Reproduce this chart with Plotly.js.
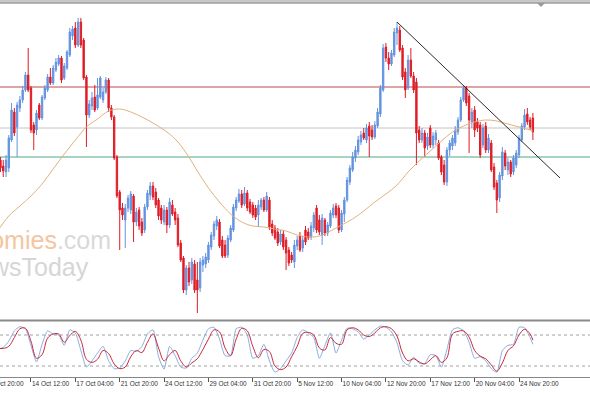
<!DOCTYPE html>
<html><head><meta charset="utf-8">
<script src="https://cdn.plot.ly/plotly-3.0.1.min.js"></script>
<style>html,body{margin:0;padding:0;background:#fff;}#chart{width:590px;height:393px;}</style>
</head><body><div id="chart"></div>
<script>
// ---------- data ----------
const TICK_IDX = [0,16,32,48,64,80,96,112,128,144,160,176,192];
const TICK_TEXT = ["9 Oct 20:00","14 Oct 12:00","17 Oct 04:00","21 Oct 20:00","24 Oct 12:00","29 Oct 04:00","31 Oct 20:00","5 Nov 12:00","10 Nov 04:00","12 Nov 20:00","17 Nov 12:00","20 Nov 04:00","24 Nov 20:00"];
const CANDLE_START = 4;
const OPEN = [
1.2830,1.2840,1.2834,1.2828,1.2832,1.2860,1.2888,1.2873,1.2892,1.2900,
1.2910,1.2925,1.2912,1.2875,1.2870,1.2895,1.2882,1.2902,1.2910,1.2923,
1.2917,1.2930,1.2936,1.2942,1.2922,1.2932,1.2945,1.2964,1.2972,1.2955,
1.2978,1.2960,1.2923,1.2885,1.2894,1.2903,1.2892,1.2903,1.2900,1.2908,
1.2920,1.2892,1.2883,1.2843,1.2808,1.2792,1.2780,1.2792,1.2790,1.2804,
1.2778,1.2790,1.2778,1.2770,1.2793,1.2805,1.2814,1.2808,1.2800,1.2792,
1.2778,1.2790,1.2775,1.2795,1.2788,1.2782,1.2757,1.2742,1.2710,1.2732,
1.2720,1.2736,1.2720,1.2712,1.2735,1.2736,1.2740,1.2753,1.2764,1.2774,
1.2778,1.2760,1.2755,1.2745,1.2760,1.2770,1.2792,1.2799,1.2806,1.2796,
1.2807,1.2798,1.2795,1.2792,1.2785,1.2793,1.2800,1.2790,1.2800,1.2776,
1.2772,1.2768,1.2758,1.2766,1.2760,1.2750,1.2745,1.2738,1.2754,1.2764,
1.2752,1.2770,1.2768,1.2763,1.2772,1.2792,1.2780,1.2765,1.2780,1.2767,
1.2774,1.2785,1.2794,1.2792,1.2770,1.2786,1.2800,1.2818,1.2830,1.2842,
1.2848,1.2858,1.2867,1.2860,1.2874,1.2870,1.2863,1.2874,1.2886,1.2910,
1.2953,1.2942,1.2936,1.2945,1.2967,1.2970,1.2952,1.2928,1.2912,1.2940,
1.2924,1.2918,1.2870,1.2860,1.2867,1.2854,1.2872,1.2855,1.2860,1.2857,
1.2843,1.2835,1.2818,1.2850,1.2854,1.2857,1.2868,1.2880,1.2900,1.2912,
1.2904,1.2878,1.2890,1.2878,1.2875,1.2855,1.2874,1.2850,1.2857,1.2833,
1.2817,1.2802,1.2824,1.2847,1.2830,1.2838,1.2828,1.2835,1.2845,1.2860,
1.2873,1.2886,1.2880,1.2882];
const HIGH = [
1.2845,1.2843,1.2840,1.2845,1.2865,1.2897,1.2892,1.2898,1.2904,1.2914,
1.2928,1.2952,1.2914,1.2878,1.2890,1.2897,1.2905,1.2915,1.2926,1.2932,
1.2935,1.2942,1.2945,1.2944,1.2937,1.2950,1.2972,1.2974,1.2978,1.2982,
1.2982,1.2962,1.2925,1.2900,1.2908,1.2915,1.2922,1.2924,1.2912,1.2923,
1.2922,1.2895,1.2885,1.2845,1.2810,1.2797,1.2796,1.2805,1.2809,1.2806,
1.2792,1.2793,1.2782,1.2796,1.2810,1.2818,1.2818,1.2812,1.2802,1.2795,
1.2795,1.2793,1.2802,1.2800,1.2792,1.2786,1.2760,1.2744,1.2735,1.2738,
1.2742,1.2740,1.2738,1.2742,1.2744,1.2747,1.2758,1.2768,1.2779,1.2784,
1.2781,1.2764,1.2760,1.2765,1.2775,1.2796,1.2803,1.2811,1.2810,1.2813,
1.2810,1.2801,1.2798,1.2795,1.2800,1.2802,1.2803,1.2808,1.2803,1.2780,
1.2775,1.2772,1.2770,1.2770,1.2763,1.2753,1.2748,1.2760,1.2764,1.2768,
1.2764,1.2774,1.2772,1.2778,1.2788,1.2795,1.2785,1.2786,1.2782,1.2778,
1.2790,1.2796,1.2797,1.2795,1.2790,1.2803,1.2823,1.2835,1.2848,1.2854,
1.2864,1.2869,1.2872,1.2876,1.2878,1.2875,1.2879,1.2892,1.2915,1.2956,
1.2957,1.2948,1.2950,1.2972,1.2978,1.2974,1.2955,1.2932,1.2945,1.2952,
1.2928,1.2922,1.2874,1.2872,1.2870,1.2867,1.2875,1.2868,1.2870,1.2860,
1.2845,1.2840,1.2853,1.2860,1.2865,1.2874,1.2883,1.2903,1.2915,1.2914,
1.2907,1.2892,1.2894,1.2882,1.2878,1.2876,1.2878,1.2866,1.2860,1.2837,
1.2820,1.2828,1.2853,1.2850,1.2842,1.2840,1.2845,1.2850,1.2865,1.2877,
1.2891,1.2892,1.2883,1.2887];
const LOW = [
1.2828,1.2828,1.2823,1.2823,1.2828,1.2858,1.2864,1.2843,1.2888,1.2897,
1.2908,1.2908,1.2867,1.2850,1.2865,1.2880,1.2880,1.2900,1.2908,1.2915,
1.2915,1.2928,1.2934,1.2917,1.2920,1.2930,1.2943,1.2960,1.2952,1.2953,
1.2952,1.2920,1.2853,1.2882,1.2890,1.2888,1.2890,1.2901,1.2897,1.2906,
1.2888,1.2880,1.2840,1.2802,1.2750,1.2780,1.2752,1.2788,1.2786,1.2758,
1.2774,1.2770,1.2764,1.2767,1.2790,1.2800,1.2800,1.2792,1.2780,1.2776,
1.2775,1.2767,1.2772,1.2784,1.2775,1.2753,1.2738,1.2707,1.2705,1.2714,
1.2716,1.2707,1.2687,1.2708,1.2728,1.2732,1.2737,1.2750,1.2760,1.2770,
1.2752,1.2742,1.2742,1.2742,1.2758,1.2768,1.2789,1.2797,1.2792,1.2794,
1.2789,1.2786,1.2782,1.2780,1.2773,1.2790,1.2788,1.2788,1.2770,1.2764,
1.2760,1.2754,1.2755,1.2750,1.2730,1.2734,1.2737,1.2732,1.2750,1.2748,
1.2748,1.2755,1.2760,1.2760,1.2768,1.2767,1.2765,1.2755,1.2764,1.2764,
1.2772,1.2782,1.2782,1.2767,1.2768,1.2778,1.2798,1.2815,1.2828,1.2838,
1.2845,1.2855,1.2860,1.2857,1.2843,1.2860,1.2861,1.2872,1.2883,1.2908,
1.2938,1.2930,1.2934,1.2943,1.2955,1.2948,1.2920,1.2902,1.2910,1.2922,
1.2907,1.2835,1.2857,1.2857,1.2843,1.2850,1.2852,1.2852,1.2855,1.2840,
1.2825,1.2815,1.2814,1.2844,1.2850,1.2854,1.2865,1.2878,1.2898,1.2894,
1.2847,1.2872,1.2863,1.2868,1.2842,1.2852,1.2847,1.2847,1.2828,1.2810,
1.2787,1.2798,1.2820,1.2830,1.2825,1.2823,1.2825,1.2832,1.2842,1.2858,
1.2870,1.2875,1.2870,1.2860];
const CLOSE = [
1.2840,1.2832,1.2829,1.2840,1.2862,1.2890,1.2867,1.2895,1.2900,1.2910,
1.2925,1.2910,1.2870,1.2867,1.2887,1.2882,1.2903,1.2912,1.2923,1.2917,
1.2932,1.2938,1.2942,1.2920,1.2934,1.2948,1.2968,1.2971,1.2955,1.2978,
1.2955,1.2922,1.2885,1.2896,1.2902,1.2890,1.2905,1.2922,1.2908,1.2920,
1.2892,1.2883,1.2842,1.2804,1.2790,1.2785,1.2792,1.2802,1.2806,1.2778,
1.2788,1.2774,1.2767,1.2793,1.2807,1.2814,1.2803,1.2795,1.2784,1.2780,
1.2790,1.2775,1.2798,1.2786,1.2780,1.2755,1.2740,1.2710,1.2732,1.2718,
1.2738,1.2710,1.2710,1.2738,1.2740,1.2743,1.2755,1.2765,1.2776,1.2780,
1.2754,1.2744,1.2744,1.2762,1.2772,1.2793,1.2800,1.2806,1.2795,1.2807,
1.2792,1.2788,1.2785,1.2783,1.2795,1.2800,1.2790,1.2804,1.2773,1.2767,
1.2762,1.2757,1.2766,1.2753,1.2747,1.2737,1.2740,1.2755,1.2760,1.2750,
1.2760,1.2758,1.2762,1.2774,1.2785,1.2770,1.2768,1.2782,1.2767,1.2775,
1.2787,1.2792,1.2785,1.2770,1.2787,1.2800,1.2820,1.2832,1.2843,1.2850,
1.2860,1.2865,1.2862,1.2872,1.2864,1.2863,1.2875,1.2888,1.2912,1.2952,
1.2942,1.2936,1.2947,1.2968,1.2972,1.2950,1.2923,1.2910,1.2940,1.2924,
1.2910,1.2867,1.2860,1.2867,1.2852,1.2863,1.2855,1.2864,1.2867,1.2842,
1.2828,1.2818,1.2850,1.2857,1.2862,1.2870,1.2880,1.2900,1.2912,1.2897,
1.2880,1.2888,1.2870,1.2872,1.2845,1.2872,1.2850,1.2862,1.2830,1.2813,
1.2800,1.2825,1.2848,1.2834,1.2838,1.2826,1.2842,1.2847,1.2862,1.2874,
1.2885,1.2878,1.2873,1.2868];

const MA_IDX = [4,8,12,16,20,24,28,32,36,40,44,48,52,56,60,64,68,72,76,80,84,88,92,96,100,104,108,112,116,120,124,128,132,136,140,144,148,152,156,160,164,168,172,176,180,184,188,192,196,197];
const MA_VAL = [1.2769,1.2784,1.2794,1.2804,1.2816,1.2831,1.2846,1.2860,1.2873,1.2881,1.2889,1.2891,1.2888,1.2883,1.2877,1.2870,1.2861,1.2847,1.2829,1.2812,1.2798,1.2786,1.2778,1.2774,1.2773,1.2771,1.2769,1.2765,1.2763,1.2764,1.2769,1.2775,1.2781,1.2789,1.2798,1.2806,1.2815,1.2828,1.2839,1.2849,1.2859,1.2868,1.2874,1.2878,1.2880,1.2879,1.2876,1.2873,1.2870,1.2869];

const LEVELS = [1.2913, 1.2872, 1.2843];
const LEVEL_COLORS = ['#bb4a4a', '#c4c4c4', '#4fa982'];
const TREND_X = [148, 206.8];
const TREND_Y = [1.2978, 1.2822];

const ST_IDX = [4,6,8,10,12,14,16,18,20,22,24,26,28,30,32,34,36,38,40,42,44,46,48,50,52,54,56,58,60,62,64,66,68,70,72,74,76,78,80,82,84,86,88,90,92,94,96,98,100,102,104,106,108,110,112,114,116,118,120,122,124,126,128,130,132,134,136,138,140,142,144,146,148,150,152,154,156,158,160,162,164,166,168,170,172,174,176,178,180,182,184,186,188,190,192,194,196,197];
const ST_SIGNAL = [54,54,58,75,92,93,68,35,42,74,82,82,66,79,87,70,33,27,33,50,44,24,15,18,38,50,46,66,82,55,30,42,50,30,18,26,34,52,72,90,86,55,40,72,93,88,58,36,52,48,20,13,18,38,58,83,85,80,55,51,75,64,62,90,94,90,80,77,84,94,96,92,78,45,30,34,28,24,32,40,27,36,82,87,88,76,50,39,34,22,10,26,50,59,80,91,82,70];
const ST_MAIN = [52,56,68,88,96,92,60,28,62,88,82,80,60,90,84,50,18,30,45,58,30,15,16,30,50,48,58,82,90,38,14,58,40,18,16,35,45,70,92,95,72,40,40,92,95,80,35,40,62,30,8,15,30,45,75,90,84,75,35,60,84,45,70,93,92,86,72,80,90,97,95,86,65,30,22,37,25,25,42,40,18,52,90,94,88,66,35,38,30,15,8,50,60,62,95,94,75,62];
const ST_LEVELS = [80, 20];

// ---------- layout helpers (pixel -> paper) ----------
const W = 590, H = 393;
const py = p => 1 - p / H;
const px = p => p / W;

const UP = '#6393e0', DOWN = '#e01c26';
const candleX = OPEN.map((_, k) => CANDLE_START + k);
const TICK_FONT = { family: 'Liberation Sans, Arial, sans-serif', size: 6.5, color: '#333' };
const X_RANGE = [4.83, 217.6];

const traces = [
  {
    type: 'candlestick', x: candleX, open: OPEN, high: HIGH, low: LOW, close: CLOSE,
    xaxis: 'x', yaxis: 'y', whiskerwidth: 0, hoverinfo: 'skip', showlegend: false,
    increasing: { line: { color: UP, width: 1 }, fillcolor: UP },
    decreasing: { line: { color: DOWN, width: 1 }, fillcolor: DOWN }
  },
  {
    type: 'scatter', mode: 'lines', x: MA_IDX, y: MA_VAL, xaxis: 'x', yaxis: 'y',
    line: { color: '#e2b27c', width: 1, shape: 'spline', smoothing: 1 }, hoverinfo: 'skip', showlegend: false
  },
  {
    type: 'scatter', mode: 'lines', x: ST_IDX, y: ST_MAIN, xaxis: 'x', yaxis: 'y2',
    line: { color: '#8aaddf', width: 1, shape: 'spline', smoothing: 0.6 }, hoverinfo: 'skip', showlegend: false
  },
  {
    type: 'scatter', mode: 'lines', x: ST_IDX, y: ST_SIGNAL, xaxis: 'x', yaxis: 'y2',
    line: { color: '#c8283a', width: 1, shape: 'spline', smoothing: 1 }, hoverinfo: 'skip', showlegend: false
  }
];

const shapes = [];
LEVELS.forEach((lv, k) => shapes.push({
  type: 'line', xref: 'paper', yref: 'y', x0: 0, x1: 1, y0: lv, y1: lv, layer: 'below',
  line: { color: LEVEL_COLORS[k], width: 1 }
}));
shapes.push({
  type: 'line', xref: 'x', yref: 'y', x0: TREND_X[0], x1: TREND_X[1], y0: TREND_Y[0], y1: TREND_Y[1],
  line: { color: '#2a2a2a', width: 1 }
});
ST_LEVELS.forEach(lv => shapes.push({
  type: 'line', xref: 'paper', yref: 'y2', x0: 0, x1: 1, y0: lv, y1: lv, layer: 'below',
  line: { color: '#a0a0a0', width: 1, dash: '3px,3px' }
}));
// frame decorations
shapes.push({ type: 'rect', xref: 'paper', yref: 'paper', x0: 0, x1: 1, y0: py(3.5), y1: 1, line: { width: 0 }, fillcolor: '#c8c8c8' });
shapes.push({ type: 'line', xref: 'paper', yref: 'paper', x0: 0, x1: 1, y0: py(3), y1: py(3), line: { color: '#8c8c8c', width: 1 } });
shapes.push({ type: 'line', xref: 'paper', yref: 'paper', x0: 0, x1: 1, y0: py(320.5), y1: py(320.5), line: { color: '#8a8a8a', width: 2 } });
shapes.push({ type: 'path', xref: 'paper', yref: 'paper',
  path: `M ${px(537)} ${py(3)} L ${px(545)} ${py(3)} L ${px(541)} ${py(7)} Z`, fillcolor: '#9a9a9a', line: { width: 0 } });

// first tick label lies just left of the visible range; draw it partly cut like the reference
const firstTickPaper = (TICK_IDX[0] - X_RANGE[0]) / (X_RANGE[1] - X_RANGE[0]);

const annotations = [
  { xref: 'paper', yref: 'paper', x: px(113), y: py(240), xanchor: 'right', yanchor: 'middle', showarrow: false,
    text: '<span style="color:#f5c4a0">economies</span><span style="color:#d9d9d9">.com</span>',
    font: { family: 'Liberation Sans, Arial, sans-serif', size: 25 } },
  { xref: 'paper', yref: 'paper', x: px(91), y: py(267), xanchor: 'right', yanchor: 'middle', showarrow: false,
    text: 'NewsToday', font: { family: 'Liberation Sans, Arial, sans-serif', size: 25, color: '#d6d6d6' } },
  { xref: 'paper', yref: 'paper', x: firstTickPaper + px(2), y: py(383.5), xanchor: 'left', yanchor: 'middle', showarrow: false,
    text: TICK_TEXT[0], font: TICK_FONT, borderpad: 0 }
];

const layout = {
  width: W, height: H, margin: { l: 0, r: 0, t: 0, b: 0 },
  paper_bgcolor: '#ffffff', plot_bgcolor: 'rgba(0,0,0,0)', showlegend: false,
  xaxis: {
    anchor: 'y2', range: X_RANGE, showgrid: false, zeroline: false,
    tickmode: 'array', tickvals: TICK_IDX, ticktext: TICK_TEXT, tickangle: 0,
    ticks: 'outside', ticklen: 4, tickcolor: '#555', tickwidth: 1,
    ticklabelposition: 'outside right', automargin: false,
    tickfont: TICK_FONT,
    showline: true, linecolor: '#888', linewidth: 1,
    rangeslider: { visible: false }, fixedrange: true
  },
  yaxis: { domain: [py(319), py(3)], range: [1.2681, 1.2997], visible: false, showgrid: false, zeroline: false, fixedrange: true },
  yaxis2: { domain: [py(377), py(321)], range: [-1.3, 107.1], visible: false, showgrid: false, zeroline: false, fixedrange: true },
  shapes: shapes, annotations: annotations
};

Plotly.newPlot('chart', traces, layout, { staticPlot: true, displayModeBar: false });
</script>
</body></html>
